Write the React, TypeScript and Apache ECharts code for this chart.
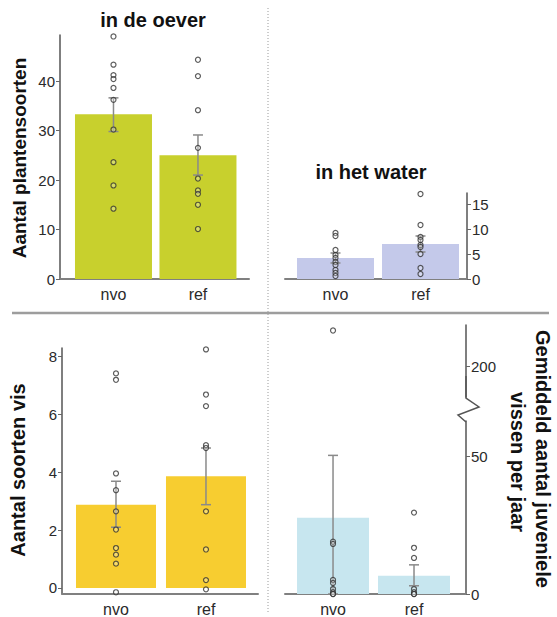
import React, { useEffect, useRef } from "react";
import * as echarts from "echarts";

const categories = ["nvo", "ref"];

// Aantal plantensoorten in de oever
const shoreMean = [33.3, 25.0];
const shoreErr = [[29.8, 36.6], [21.0, 29.1]];
const shoreNvo = [49.0, 43.3, 41.2, 40.4, 38.6, 36.2, 30.2, 23.6, 18.9, 14.2];
const shoreRef = [44.3, 41.0, 34.1, 26.5, 20.3, 17.9, 17.2, 15.0, 10.1];

// Aantal plantensoorten in het water
const waterMean = [4.2, 7.0];
const waterErr = [[3.2, 5.2], [5.4, 8.6]];
const waterNvo = [9.2, 8.6, 5.8, 4.8, 4.2, 3.4, 2.8, 1.8, 1.2, 0.6];
const waterRef = [17.0, 10.8, 8.4, 7.8, 6.8, 6.4, 5.0, 2.2, 1.0];

// Aantal soorten vis
const fishMean = [2.88, 3.86];
const fishErr = [[2.1, 3.69], [2.88, 4.84]];
const fishNvo = [7.42, 7.2, 3.96, 3.38, 2.65, 2.02, 1.38, 1.15, 0.84, -0.15];
const fishRef = [8.25, 6.69, 6.29, 4.94, 4.84, 2.65, 1.33, 0.27, -0.05];

// Gemiddeld aantal juveniele vissen per jaar
const juvMean = [27.7, 6.6];
const juvErr = [[0, 50.4], [3.0, 10.6]];
const juvNvo = [213, 19, 18.2, 5.1, 4, 1.8, 0.7, 0, 0];
const juvRef = [29.6, 16.8, 13.1, 1.8, 0.7, 0, 0];

const shoreTicks = [0, 10, 20, 30, 40];
const waterTicks = [0, 5, 10, 15];
const fishTicks = [0, 2, 4, 6, 8];
const juvTicks = [0, 50, 200];

const FONT = "Liberation Sans";

export default function App() {
  const ref = useRef<HTMLDivElement>(null);
  useEffect(() => {
    const chart = echarts.init(ref.current!, null, { renderer: "svg" });

    const xAxisBase = (gridIndex: number, min: number, max: number) => ({
      type: "value",
      gridIndex,
      min,
      max,
      splitLine: { show: false },
      axisTick: { show: false },
      axisLine: { show: true, onZero: false, lineStyle: { color: "#808080", width: 2 } },
      axisLabel: {
        customValues: [0, 1],
        formatter: (v: number) => categories[Math.round(v)],
        color: "#2a2a2a",
        fontSize: 16,
        fontFamily: FONT,
        margin: 7,
      },
    });

    const yAxisBase = (gridIndex: number, position: string, min: number, max: number, ticks: number[]) => ({
      type: "value",
      gridIndex,
      position,
      min,
      max,
      splitLine: { show: false },
      axisLine: { show: true, onZero: false, lineStyle: { color: "#555", width: 1.5 } },
      axisTick: { show: true, length: 4, customValues: ticks, lineStyle: { color: "#666" } },
      axisLabel: { customValues: ticks, color: "#2a2a2a", fontSize: 15, fontFamily: FONT, margin: 5 },
    });

    const barColors = ["#c8d02d", "#c4c9ea", "#f7cd30", "#c7e6ef"];
    const means = [shoreMean, waterMean, fishMean, juvMean];
    const errs = [shoreErr, waterErr, fishErr, juvErr];
    const dots = [
      [shoreNvo, shoreRef],
      [waterNvo, waterRef],
      [fishNvo, fishRef],
      [juvNvo, juvRef],
    ];
    const barWidths = [77, 77, 80, 72];

    const series: any[] = [];
    for (let g = 0; g < 4; g++) {
      series.push({
        type: "bar",
        xAxisIndex: g,
        yAxisIndex: g,
        barWidth: barWidths[g],
        itemStyle: { color: barColors[g] },
        data: means[g].map((v, i) => [i, v]),
        z: 1,
      });
      series.push({
        type: "custom",
        xAxisIndex: g,
        yAxisIndex: g,
        z: 3,
        data: errs[g].map((e, i) => [i, e[0], e[1]]),
        renderItem: (params: any, api: any) => {
          const x = api.value(0);
          const pLo = api.coord([x, api.value(1)]);
          const pHi = api.coord([x, api.value(2)]);
          const w = 5;
          const style = { stroke: "#8a8a8a", lineWidth: 1.5 };
          return {
            type: "group",
            children: [
              { type: "line", shape: { x1: pLo[0], y1: pLo[1], x2: pHi[0], y2: pHi[1] }, style },
              { type: "line", shape: { x1: pHi[0] - w, y1: pHi[1], x2: pHi[0] + w, y2: pHi[1] }, style },
              { type: "line", shape: { x1: pLo[0] - w, y1: pLo[1], x2: pLo[0] + w, y2: pLo[1] }, style },
            ],
          };
        },
      });
      series.push({
        type: "scatter",
        xAxisIndex: g,
        yAxisIndex: g,
        z: 4,
        clip: false,
        symbol: "circle",
        symbolSize: 5,
        itemStyle: { color: "rgba(255,255,255,0.35)", borderColor: "#333", borderWidth: 1.2 },
        data: dots[g].flatMap((arr, i) => arr.map((v) => [i, v])),
      });
    }

    const juvY: any = yAxisBase(3, "right", 0, 215, juvTicks);
    juvY.breaks = [{ start: 63, end: 189, gap: "9%" }];
    juvY.breakArea = {
      show: true,
      expandOnClick: false,
      itemStyle: { color: "rgba(255,255,255,0)", borderColor: "rgba(0,0,0,0)", borderWidth: 0 },
    };

    const titleFont = `bold 20px "${FONT}"`;

    chart.setOption({
      animation: false,
      backgroundColor: "#ffffff",
      grid: [
        { left: 60, top: 35, width: 189, height: 244 },
        { left: 285, top: 193, width: 182, height: 86 },
        { left: 62, top: 348, width: 196, height: 246 },
        { left: 285, top: 325, width: 181, height: 269 },
      ],
      xAxis: [
        xAxisBase(0, -0.633, 1.604),
        xAxisBase(1, -0.594, 1.547),
        xAxisBase(2, -0.6, 1.578),
        xAxisBase(3, -0.593, 1.642),
      ],
      yAxis: [
        yAxisBase(0, "left", 0, 49.3, shoreTicks),
        yAxisBase(1, "right", 0, 17.2, waterTicks),
        yAxisBase(2, "left", -0.21, 8.3, fishTicks),
        juvY,
      ],
      series,
      graphic: [
        { type: "line", shape: { x1: 268, y1: 8, x2: 268, y2: 612 }, style: { stroke: "#9a9a9a", lineWidth: 1, lineDash: [1, 2] } },
        { type: "line", shape: { x1: 12, y1: 313, x2: 549, y2: 313 }, style: { stroke: "#9d9d9d", lineWidth: 2.5 } },
        {
          type: "polyline",
          shape: { points: [[466, 376], [466, 398], [479, 407], [458, 415], [466, 422]] },
          style: { stroke: "#555", lineWidth: 1.5, fill: null },
          z: 10,
        },
        { type: "text", x: 153, y: 20, style: { text: "in de oever", font: titleFont, fill: "#111", align: "center", verticalAlign: "middle" } },
        { type: "text", x: 371, y: 172, style: { text: "in het water", font: titleFont, fill: "#111", align: "center", verticalAlign: "middle" } },
        { type: "text", x: 19, y: 158, rotation: Math.PI / 2, style: { text: "Aantal plantensoorten", font: `bold 19px "${FONT}"`, fill: "#111", align: "center", verticalAlign: "middle" } },
        { type: "text", x: 18, y: 470, rotation: Math.PI / 2, style: { text: "Aantal soorten vis", font: titleFont, fill: "#111", align: "center", verticalAlign: "middle" } },
        { type: "text", x: 543, y: 459, rotation: -Math.PI / 2, style: { text: "Gemiddeld aantal juveniele", font: titleFont, fill: "#111", align: "center", verticalAlign: "middle" } },
        { type: "text", x: 518, y: 462, rotation: -Math.PI / 2, style: { text: "vissen per jaar", font: titleFont, fill: "#111", align: "center", verticalAlign: "middle" } },
      ],
    });
    return () => chart.dispose();
  }, []);
  return <div ref={ref} style={{ position: "fixed", left: 0, top: 0, width: 557, height: 617 }} />;
}
